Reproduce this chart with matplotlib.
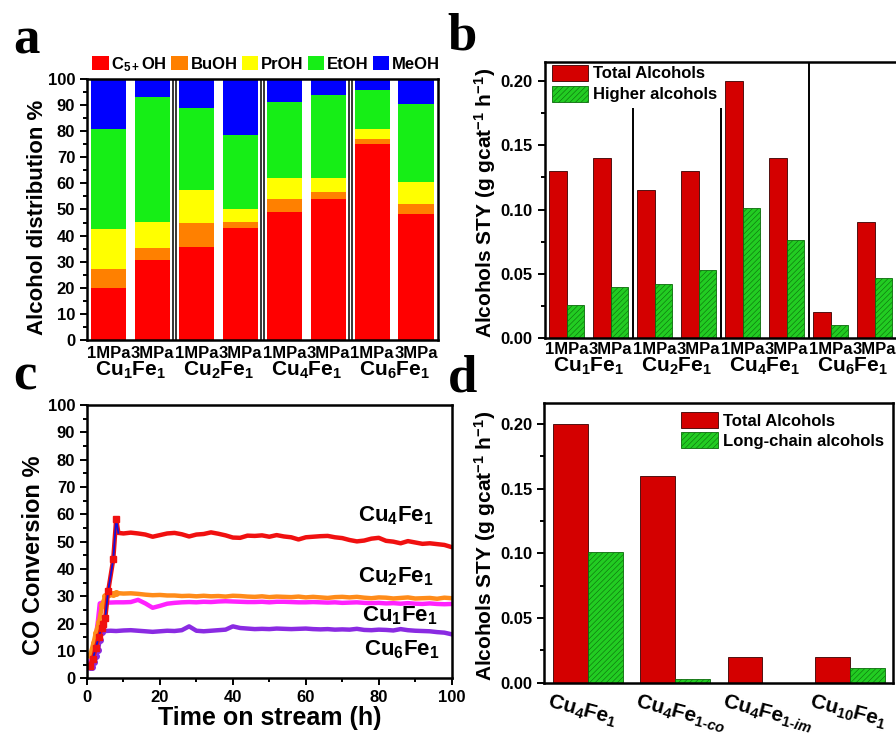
import numpy as np
import matplotlib
matplotlib.use("Agg")
import matplotlib.pyplot as plt
from matplotlib.ticker import MultipleLocator
from matplotlib.transforms import ScaledTranslation

plt.rcParams["font.family"] = ["Liberation Sans", "DejaVu Sans"]
plt.rcParams["font.weight"] = "bold"
plt.rcParams["axes.labelweight"] = "bold"
plt.rcParams["mathtext.fontset"] = "custom"
plt.rcParams["mathtext.rm"] = "Liberation Sans:bold"
plt.rcParams["mathtext.it"] = "Liberation Sans:italic:bold"
plt.rcParams["mathtext.bf"] = "Liberation Sans:bold"
plt.rcParams["mathtext.default"] = "rm"
plt.rcParams["hatch.linewidth"] = 0.4

# ---- panel a: alcohol distribution (%) ----
pressures = ["1MPa", "3MPa"] * 4
catalysts = ["Cu$_1$Fe$_1$", "Cu$_2$Fe$_1$", "Cu$_4$Fe$_1$", "Cu$_6$Fe$_1$"]
c5oh = [20.0, 30.7, 35.8, 42.8, 49.0, 53.9, 75.1, 48.1]
buoh = [7.1, 4.5, 8.9, 2.3, 4.9, 2.7, 2.0, 4.0]
proh = [15.3, 10.0, 12.9, 5.0, 8.2, 5.3, 3.7, 8.3]
etoh = [38.3, 47.9, 31.4, 28.3, 29.1, 32.0, 15.1, 29.9]
meoh = [19.3, 6.9, 11.0, 21.6, 8.8, 6.1, 4.1, 9.7]
dist_labels = ["C$_{5+}$OH", "BuOH", "PrOH", "EtOH", "MeOH"]
dist_colors = ["#ff0000", "#ff8000", "#ffff00", "#16ee16", "#0000ff"]

# ---- panel b: STY at two pressures ----
total_b = [0.130, 0.140, 0.115, 0.130, 0.200, 0.140, 0.020, 0.090]
higher_b = [0.026, 0.040, 0.042, 0.053, 0.101, 0.076, 0.010, 0.047]

# ---- panel c: CO conversion vs time ----
t_main = np.arange(10, 101, 2)
cu4_early_t = [0.8, 1.6, 2.4, 3.2, 4.0, 4.5, 5.0, 5.8, 7.2, 8.0]
cu4_early = [4.5, 7.0, 11.0, 15.0, 18.5, 20.0, 22.0, 31.9, 43.5, 58.3]
cu4 = [53.0, 53.3, 53.0, 52.6, 51.8, 52.4, 53.0, 53.2, 52.7, 51.9, 52.6, 52.8,
       53.4, 52.9, 52.3, 51.5, 51.4, 52.2, 52.1, 52.3, 51.8, 52.4, 51.9, 51.6,
       50.8, 51.6, 51.8, 52.0, 52.1, 51.6, 51.3, 50.6, 50.1, 50.4, 51.1, 51.4,
       50.3, 50.0, 49.4, 50.2, 49.7, 49.2, 49.4, 49.1, 48.8, 48.0]
cu2_early_t = [0.9, 1.8, 2.4, 3.3, 4.2, 5.0, 6.0, 7.0, 8.0]
cu2_early = [8.5, 13.0, 16.5, 20.7, 27.0, 30.0, 30.8, 31.0, 31.2]
cu2 = [31.0, 31.1, 30.9, 30.6, 30.4, 30.5, 30.3, 30.3, 30.1, 30.2, 30.0, 30.2,
       30.0, 30.1, 29.9, 30.2, 30.1, 29.9, 29.8, 30.0, 29.7, 29.9, 29.8, 29.7,
       29.9, 29.6, 29.8, 29.6, 29.4, 29.7, 29.8, 29.6, 29.8, 29.5, 29.3, 29.6,
       29.5, 29.2, 29.4, 29.6, 29.2, 29.3, 29.4, 29.1, 29.5, 29.3]
cu1_early_t = [0.8, 1.6, 2.4, 3.0, 3.5, 4.5, 6.0, 8.0]
cu1_early = [5.5, 9.0, 15.0, 21.0, 27.4, 27.8, 27.7, 27.8]
cu1 = [27.8, 27.9, 28.7, 27.4, 25.8, 26.5, 27.3, 27.6, 27.8, 27.9, 27.8, 28.0,
       27.9, 28.1, 28.2, 28.1, 28.0, 27.9, 27.9, 28.0, 27.8, 28.0, 28.0, 27.9,
       27.8, 27.8, 27.9, 27.8, 27.7, 27.8, 27.6, 27.7, 27.8, 27.6, 27.5, 27.6,
       27.4, 27.5, 27.3, 27.5, 27.3, 27.2, 27.4, 27.2, 27.1, 27.2]
cu6_early_t = [0.7, 1.4, 2.0, 2.5, 3.0, 3.5, 4.0, 5.0, 6.5, 8.0]
cu6_early = [4.0, 4.3, 6.0, 8.0, 10.5, 14.0, 17.0, 17.3, 17.4, 17.3]
cu6 = [17.5, 17.6, 17.4, 17.2, 17.0, 17.2, 17.4, 17.3, 17.6, 19.0, 17.4, 17.2,
       17.4, 17.6, 17.8, 19.0, 18.4, 18.2, 18.0, 18.1, 18.0, 18.2, 18.1, 18.0,
       18.1, 18.2, 18.0, 17.9, 18.0, 17.8, 17.9, 17.8, 18.1, 17.7, 17.6, 17.8,
       17.7, 17.5, 18.0, 17.6, 17.4, 17.3, 17.2, 16.9, 16.7, 16.1]

# ---- panel d: catalyst preparation comparison ----
samples_d = ["Cu$_4$Fe$_{\\mathit{1\u2010co}}$", "Cu$_4$Fe$_{\\mathit{1\u2010im}}$"]
samples_d = ["Cu$_4$Fe$_1$"] + samples_d + ["Cu$_{10}$Fe$_1$"]
total_d = [0.200, 0.160, 0.020, 0.020]
longchain_d = [0.101, 0.003, 0.0, 0.011]

RED = "#d40000"
GREEN = "#22cc22"

fig = plt.figure(figsize=(8.96, 7.34), dpi=100)


def style_axes(ax):
    for s in ax.spines.values():
        s.set_linewidth(1.8)
    ax.tick_params(which="both", direction="out", width=1.4, labelsize=12)
    ax.tick_params(which="major", length=5)
    ax.tick_params(which="minor", length=3)


# a
axa = fig.add_axes([0.0971, 0.5368, 0.3917, 0.3556])
pos8 = np.arange(1, 9)
bottom = np.zeros(8)
for vals, col, lab in zip([c5oh, buoh, proh, etoh, meoh], dist_colors, dist_labels):
    axa.bar(pos8, vals, 0.8, bottom=bottom, color=col, lw=0, label=lab)
    bottom += np.array(vals)
for x in [2.5, 4.5, 6.5]:
    axa.axvline(x - 0.03, color="k", lw=1.1)
    axa.axvline(x + 0.03, color="k", lw=1.1)
axa.set_xlim(0.5, 8.5)
axa.set_ylim(0, 100)
axa.yaxis.set_major_locator(MultipleLocator(10))
axa.yaxis.set_minor_locator(MultipleLocator(5))
style_axes(axa)
axa.set_xticks(pos8, pressures)
axa.tick_params(axis="x", length=0, pad=4)
axa.set_ylabel("Alcohol distribution %", fontsize=16)
axa.yaxis.set_label_coords(-0.11, 0.47)
for i, name in enumerate(catalysts):
    axa.text(1.5 + 2 * i, -0.137, name, transform=axa.get_xaxis_transform(),
             ha="center", va="baseline", fontsize=15)
axa.legend(loc="lower left", bbox_to_anchor=(0.015, 1.02), ncol=5, frameon=False,
           fontsize=12, handlelength=1.0, handleheight=0.9, handletextpad=0.15,
           columnspacing=0.25, borderpad=0, borderaxespad=0)

# b
axb = fig.add_axes([0.6079, 0.5395, 0.3929, 0.376])
axb.bar(pos8 - 0.2, total_b, 0.4, color=RED, edgecolor="#3a0000", lw=0.6,
        label="Total Alcohols")
axb.bar(pos8 + 0.2, higher_b, 0.4, color=GREEN, edgecolor="#0b6b0b", lw=0.6,
        hatch="//////", label="Higher alcohols")
axb.vlines([2.5, 4.5], 0, 0.179, color="k", lw=1.4)
axb.axvline(6.5, color="k", lw=1.4)
axb.set_xlim(0.5, 8.5)
axb.set_ylim(0, 0.2148)
axb.yaxis.set_major_locator(MultipleLocator(0.05))
axb.yaxis.set_minor_locator(MultipleLocator(0.025))
axb.yaxis.set_major_formatter(plt.FormatStrFormatter("%.2f"))
style_axes(axb)
axb.set_xticks(pos8, pressures)
axb.tick_params(axis="x", length=0, pad=3)
axb.set_ylabel("Alcohols STY (g gcat$^{-1}$ h$^{-1}$)", fontsize=15)
axb.yaxis.set_label_coords(-0.132, 0.49)
for i, name in enumerate(catalysts):
    axb.text(1.5 + 2 * i, -0.122, name, transform=axb.get_xaxis_transform(),
             ha="center", va="baseline", fontsize=15)
axb.legend(loc="upper left", bbox_to_anchor=(0.02, 0.99), frameon=False,
           fontsize=12, handlelength=2.2, handleheight=1.1, handletextpad=0.3,
           labelspacing=0.25, borderpad=0, borderaxespad=0)

# c
axc = fig.add_axes([0.0971, 0.0759, 0.407, 0.3723])
axc.plot(cu6_early_t + list(t_main), cu6_early + cu6, color="#8a2be2", lw=3.2)
axc.plot(cu1_early_t + list(t_main), cu1_early + cu1, color="#ff22ff", lw=3.2)
axc.plot(cu2_early_t + list(t_main), cu2_early + cu2, color="#ff8c1a", lw=3.2)
axc.plot(cu2_early_t, cu2_early, "o", color="#ff8c1a", ms=4)
axc.plot(cu6_early_t[:7], cu6_early[:7], "o", color="#8a2be2", ms=4)
axc.plot(cu4_early_t + [8.6] + list(t_main), cu4_early + [53.2] + cu4,
         color="#f01010", lw=3.2)
axc.plot(cu4_early_t + [8.6], cu4_early + [53.2], color="#1010dd", lw=1.3)
axc.plot(cu4_early_t, cu4_early, "s", color="#f01010", ms=4)
axc.set_xlim(0, 100)
axc.set_ylim(0, 100)
axc.xaxis.set_major_locator(MultipleLocator(20))
axc.xaxis.set_minor_locator(MultipleLocator(10))
axc.yaxis.set_major_locator(MultipleLocator(10))
axc.yaxis.set_minor_locator(MultipleLocator(5))
style_axes(axc)
axc.set_xlabel("Time on stream (h)", fontsize=18)
axc.xaxis.set_label_coords(0.5, -0.10)
axc.set_ylabel("CO Conversion %", fontsize=17)
axc.yaxis.set_label_coords(-0.115, 0.45)
for name, x, y in [("Cu$_4$Fe$_1$", 74.3, 57.3), ("Cu$_2$Fe$_1$", 74.3, 35.0),
                   ("Cu$_1$Fe$_1$", 75.5, 20.7), ("Cu$_6$Fe$_1$", 76.0, 8.5)]:
    axc.text(x, y, name, fontsize=16, ha="left", va="baseline")

# d
axd = fig.add_axes([0.6075, 0.0699, 0.3895, 0.3807])
pos4 = np.arange(1, 5)
axd.bar(pos4 - 0.2, total_d, 0.4, color=RED, edgecolor="#3a0000", lw=0.6,
        label="Total Alcohols")
axd.bar(pos4 + 0.2, longchain_d, 0.4, color=GREEN, edgecolor="#0b6b0b", lw=0.6,
        hatch="//////", label="Long-chain alcohols")
axd.set_xlim(0.5, 4.5)
axd.set_ylim(0, 0.216)
axd.yaxis.set_major_locator(MultipleLocator(0.05))
axd.yaxis.set_minor_locator(MultipleLocator(0.025))
axd.yaxis.set_major_formatter(plt.FormatStrFormatter("%.2f"))
style_axes(axd)
axd.set_xticks(pos4, samples_d, fontsize=15, rotation=-15, ha="left", va="top",
               rotation_mode="anchor")
axd.tick_params(axis="x", length=0, pad=6)
off = ScaledTranslation(-0.37, 0, fig.dpi_scale_trans)
for lab in axd.get_xticklabels():
    lab.set_transform(lab.get_transform() + off)
axd.set_ylabel("Alcohols STY (g gcat$^{-1}$ h$^{-1}$)", fontsize=15)
axd.yaxis.set_label_coords(-0.132, 0.49)
axd.legend(loc="upper left", bbox_to_anchor=(0.392, 0.97), frameon=False,
           fontsize=12, handlelength=2.2, handleheight=1.15, handletextpad=0.3,
           labelspacing=0.2, borderpad=0, borderaxespad=0)

# panel letters
for letter, x, y in [("a", 13, 53), ("b", 447, 50), ("c", 13, 390), ("d", 448, 392)]:
    fig.text(x / 896, 1 - y / 734, letter, family="Liberation Serif",
             weight="bold", fontsize=38, ha="left", va="baseline")

fig.savefig("out.png", dpi=100)
